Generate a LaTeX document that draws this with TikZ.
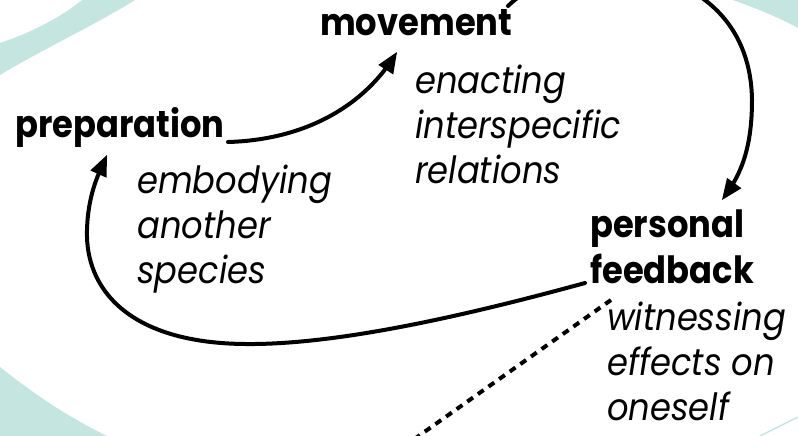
\documentclass[tikz,border=0pt]{standalone}
\usepackage{fontspec}
\setmainfont[FakeStretch=0.9]{Poppins}
\usetikzlibrary{arrows,calc}
\definecolor{mint}{RGB}{197,229,224}
\tikzset{
  stage/.style={font=\fontsize{37.5}{46}\selectfont\bfseries,inner sep=0pt,anchor=base west,align=left},
  gloss/.style={font=\fontsize{37.5}{45}\selectfont\itshape,inner sep=0pt,anchor=base west,align=left},
  loop line/.style={line width=4pt,->},
}

\begin{document}
\begin{tikzpicture}
			[line cap=round,line join=round,>=triangle 45,x=1pt,y=-1pt]
			\useasboundingbox (0,0) rectangle (798,436);
			\fill[white] (0,0) rectangle (798,436);
			% mint corners
			\fill[mint] (0,43) .. controls (30,33) and (60,18) .. (82,0) -- (135,0) .. controls (95,25) and (45,48) .. (0,75) -- cycle;
			\fill[mint] (733,0) .. controls (755,8) and (778,17) .. (798,28) -- (798,0) -- cycle;
			\fill[mint] (0,367) .. controls (35,395) and (70,418) .. (107,436) -- (0,436) -- cycle;
			\draw[mint,line width=1.5pt] (760,436) -- (798,417);
			% stages (base = last line)
			\node[stage] (movement) at (320,36) {movement};
			\node[gloss] (enacting) at (415,183) {enacting\\interspecific\\relations};
			\node[stage] (preparation) at (15,137) {preparation};
			\node[gloss] (embodying) at (137,283) {embodying\\another\\species};
			\node[stage] (feedback) at (590,283) {personal\\feedback};
			\node[gloss] (witnessing) at (607,420) {witnessing\\effects on\\oneself};
			\coordinate (away) at (413,440);
			% cycle
			\draw[loop line] ($(preparation.base west)+(213,5)$) .. controls (300,140) and (360,110) .. ($(movement.base west)+(77,16)$);
			\draw[loop line] ($(movement.base west)+(188,-30)$) .. controls (570,-55) and (750,-45) .. (752,100) .. controls (752,150) and (740,175) .. ($(feedback.base west)+(132,-83)$);
			\draw[loop line] ($(feedback.base west)+(-5,0)$) .. controls (450,320) and (330,345) .. (245,344) .. controls (130,343) and (85,290) .. (87,230) .. controls (88,195) and (98,175) .. ($(preparation.base west)+(92,18)$);
			\draw[line width=4pt,dash pattern=on 7pt off 6pt,line cap=butt] ($(feedback.base west)+(21,17)$) -- (away);
		\end{tikzpicture}
\end{document}
